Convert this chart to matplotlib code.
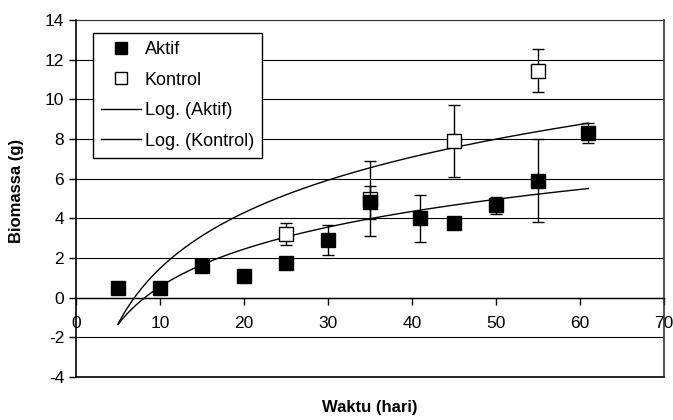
import numpy as np
import matplotlib
matplotlib.use('Agg')
import matplotlib.pyplot as plt
from matplotlib.lines import Line2D

plt.rcParams['font.family'] = ['Liberation Sans', 'DejaVu Sans']
plt.rcParams['axes.unicode_minus'] = False

# data
hari_aktif = [5, 10, 15, 20, 25, 30, 35, 41, 45, 50, 55, 61]
bio_aktif = [0.5, 0.5, 1.6, 1.1, 1.75, 2.9, 4.8, 4.0, 3.75, 4.65, 5.9, 8.3]
err_aktif = [0, 0, 0, 0, 0, 0.75, 0.85, 1.2, 0, 0.45, 2.1, 0.5]

hari_kontrol = [25, 35, 45, 55]
bio_kontrol = [3.2, 5.0, 7.9, 11.45]
err_kontrol = [0.55, 1.9, 1.8, 1.1]

# log trendlines y = a*ln(x) + b
log_aktif = (2.74, -5.76)
log_kontrol = (4.05, -7.85)
trend_range = (5, 61)

fig = plt.figure(figsize=(6.73, 4.2), dpi=100)
ax = fig.add_axes([76/673, 1-377/420, 588/673, 357/420])

xt = np.linspace(trend_range[0], trend_range[1], 200)
ax.plot(xt, log_aktif[0]*np.log(xt) + log_aktif[1], color='black', lw=1.0, zorder=3)
ax.plot(xt, log_kontrol[0]*np.log(xt) + log_kontrol[1], color='black', lw=1.0, zorder=3)

ax.errorbar(hari_kontrol, bio_kontrol, yerr=err_kontrol, fmt='s', mfc='white',
            mec='black', mew=1.0, ms=9.5, ecolor='black', elinewidth=1.0,
            capsize=4, capthick=1.0, zorder=4)
ax.errorbar(hari_aktif, bio_aktif, yerr=err_aktif, fmt='s', mfc='black',
            mec='black', ms=10, ecolor='black', elinewidth=1.0,
            capsize=4, capthick=1.0, zorder=5)

ax.set_xlim(0, 70)
ax.set_ylim(-4, 14)
ax.set_xticks(range(0, 71, 10))
ax.set_yticks(range(-4, 15, 2))
ax.grid(axis='y', color='black', lw=0.8, zorder=0)
ax.set_axisbelow(True)
ax.axhline(-4, color='black', lw=1.2, clip_on=False, zorder=1)

ax.spines['bottom'].set_position(('data', 0))
ax.spines['bottom'].set_linewidth(1.0)
ax.spines['left'].set_linewidth(1.2)
ax.spines['top'].set_color('#333333')
ax.spines['right'].set_color('#333333')
ax.spines['right'].set_linewidth(1.2)
ax.tick_params(axis='both', direction='out', length=5, width=1, labelsize=12.5)
ax.tick_params(axis='x', pad=8)

ax.set_xlabel('Waktu (hari)', fontsize=12, fontweight='bold')
ax.xaxis.set_label_coords(0.5, -0.065)
ax.set_ylabel('Biomassa (g)', fontsize=12, fontweight='bold')
ax.yaxis.set_label_coords(-0.088, 0.52)

handles = [
    Line2D([], [], ls='none', marker='s', mfc='black', mec='black', ms=9),
    Line2D([], [], ls='none', marker='s', mfc='white', mec='black', ms=8.5),
    Line2D([], [], color='black', lw=1.0),
    Line2D([], [], color='black', lw=1.0),
]
labels = ['Aktif', 'Kontrol', 'Log. (Aktif)', 'Log. (Kontrol)']
leg = ax.legend(handles, labels, loc='upper left',
                bbox_to_anchor=(0.029, 0.964), fontsize=13, frameon=True,
                fancybox=False, edgecolor='black', framealpha=1,
                labelspacing=0.75, handlelength=2.2, handletextpad=0.2,
                borderpad=0.45, borderaxespad=0)
leg.get_frame().set_linewidth(1.0)

fig.savefig('out.png', dpi=100)
